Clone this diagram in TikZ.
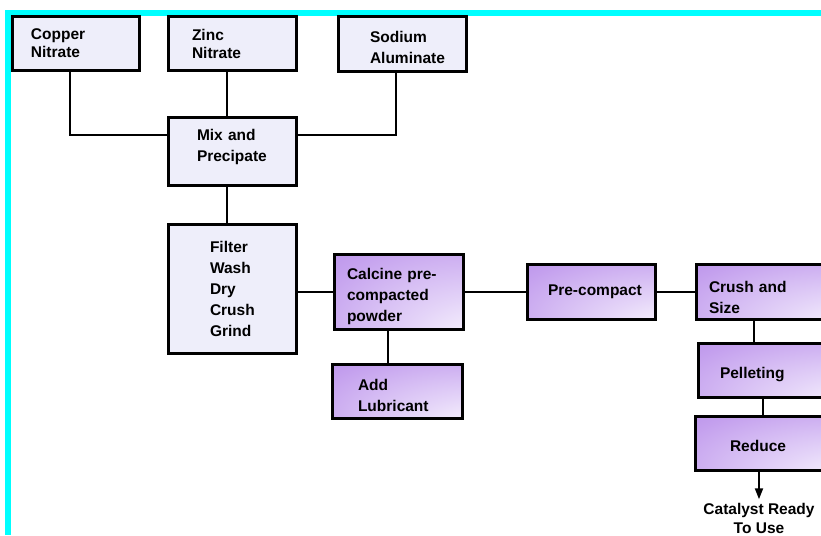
\documentclass[tikz,border=0pt]{standalone}
\usepackage{fontspec}
\setmainfont{Liberation Sans}
\usepackage{tikz}
\usetikzlibrary{calc,arrows.meta}
\definecolor{feedfill}{RGB}{238,238,250}
\definecolor{procpurple}{RGB}{158,108,222}
\definecolor{procmid}{RGB}{196,160,238}
\definecolor{proclight}{RGB}{228,212,248}
\definecolor{framecyan}{RGB}{0,255,255}
\pgfdeclareradialshading{procshade}{\pgfpoint{45bp}{-45bp}}{color(0bp)=(white);
	color(8bp)=(white); color(28bp)=(proclight); color(55bp)=(procmid);
	color(90bp)=(procpurple); color(100bp)=(procpurple)}
\tikzset{feedbox/.style={draw,line width=3pt,fill=feedfill,anchor=north west,
		align=left,inner xsep=4pt,inner ysep=0pt,outer sep=0pt,
		font=\bfseries\fontsize{15.5}{21}\selectfont},
	 procbox/.style={feedbox,shading=procshade},
	 lpad/.style={execute at begin node={\leftskip=#1pt}},
	 tdown/.style={execute at begin node={\rule{0pt}{#1pt}}},
	 tup/.style={execute at end node={\par\vspace*{#1pt}}},
	 link/.style={line width=2pt}
	 }

\begin{document}
\begin{tikzpicture}[x=1pt,y=-1pt] % catalyst preparation flow sheet
	\useasboundingbox (0,0) rectangle (821,535);
	\clip (0,0) rectangle (821,535);
	\fill[framecyan] (5,10) rectangle (821,16);
	\fill[framecyan] (5,10) rectangle (11,535);
	\node[feedbox,minimum width=127,minimum height=53,text width=119,lpad=15] (copper) at (12,17) {Copper\\[-3pt]Nitrate};
	\node[feedbox,minimum width=128,minimum height=53,text width=120,lpad=20] (zinc) at (168,17) {Zinc\\[-3pt]Nitrate};
	\node[feedbox,minimum width=128,minimum height=54,text width=120,lpad=28,tdown=17.5] (sodium) at (338,17) {Sodium\\Aluminate};
	\node[feedbox,minimum width=128,minimum height=68,text width=120,lpad=25,tup=8] (mix) at (168,117) {Mix and\\Precipate};
	\node[feedbox,minimum width=128,minimum height=129,text width=120,lpad=38] (filter) at (168,224) {Filter\\Wash\\Dry\\Crush\\Grind};
	\node[procbox,minimum width=129,minimum height=75,text width=121,lpad=9,tdown=21.5] (calcine) at (334,254) {Calcine pre-\\compacted\\powder};
	\node[procbox,minimum width=130,minimum height=54,text width=122,lpad=22,tdown=19.5] (add) at (332,364) {Add\\Lubricant};
	\node[procbox,minimum width=128,minimum height=55,text width=120,lpad=17] (precompact) at (527,264) {Pre-compact};
	\node[procbox,minimum width=140,minimum height=55,text width=132,lpad=9,tdown=23.5] (crush) at (696,264) {Crush and\\Size};
	\node[procbox,minimum width=140,minimum height=54,text width=132,lpad=18,tdown=19.5] (pelleting) at (698,343) {Pelleting};
	\node[procbox,minimum width=140,minimum height=54,text width=132,lpad=31,tdown=17.5] (reduce) at (695,416) {Reduce};
	\node[align=center,font=\bfseries\fontsize{15.5}{19}\selectfont] (ready) at (759,518) {Catalyst Ready\\To Use};
	\draw[link] ([xshift=-6pt]copper.south) |- ($(mix.north west)!0.26!(mix.south west)$);
	\draw[link] ([xshift=-6pt]sodium.south) |- ($(mix.north east)!0.26!(mix.south east)$);
	\draw[link] ([xshift=-5pt]zinc.south) -- ([xshift=-5pt]mix.north);
	\draw[link] ([xshift=-5pt]mix.south) -- ([xshift=-5pt]filter.north);
	\draw[link] (calcine.west) -- (calcine.west -| filter.east);
	\draw[link] ([xshift=-11pt]calcine.south) -- ([xshift=-11pt]calcine.south |- add.north);
	\draw[link] (calcine.east) -- (precompact.west);
	\draw[link] (precompact.east) -- (crush.west);
	\draw[link] ([xshift=-12pt]crush.south) -- ([xshift=-12pt]crush.south |- pelleting.north);
	\draw[link] ([xshift=-5pt]pelleting.south) -- ([xshift=-5pt]pelleting.south |- reduce.north);
	\draw[link,-{Triangle[width=8pt,length=11pt]}] (ready.north |- reduce.south) -- (ready.north);
\end{tikzpicture}
\end{document}
